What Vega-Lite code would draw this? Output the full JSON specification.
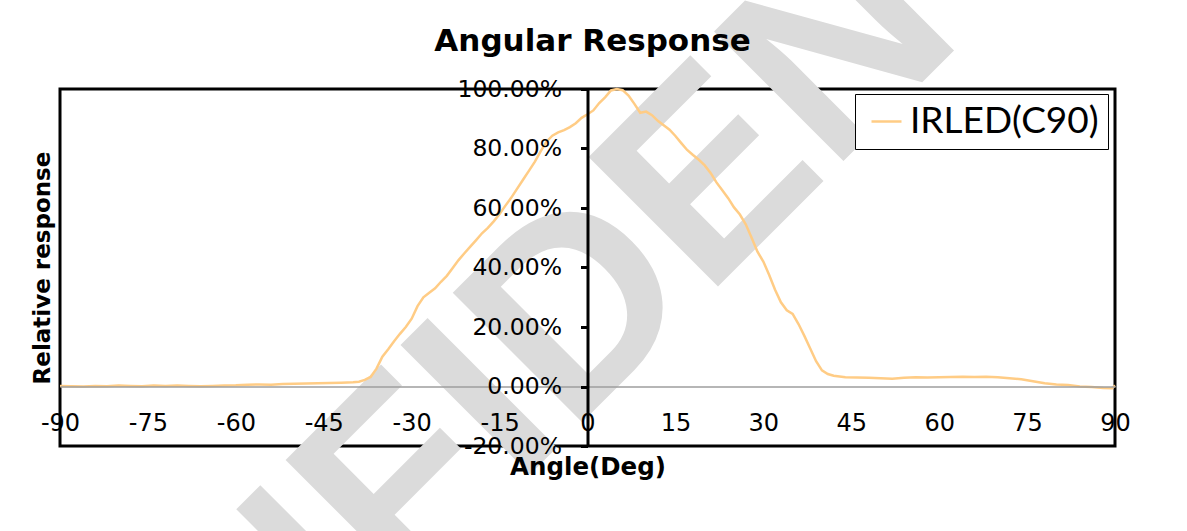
{
  "$schema": "https://vega.github.io/schema/vega-lite/v6.json",
  "width": 1055,
  "height": 357,
  "autosize": {"type": "none"},
  "padding": {"left": 60, "top": 89, "right": 72, "bottom": 85},
  "background": "white",
  "view": {"stroke": "black", "strokeWidth": 3},
  "title": {
    "text": "Angular Response",
    "font": "DejaVu Sans",
    "fontSize": 31,
    "fontWeight": "bold",
    "color": "black",
    "anchor": "middle",
    "frame": "group",
    "offset": 0,
    "dx": 5,
    "dy": 589
  },
  "layer": [
    {
      "data": {"values": [{}]},
      "mark": {
        "type": "text",
        "text": "CONFIDENTIAL",
        "angle": -45,
        "font": "Liberation Sans",
        "fontWeight": "bold",
        "fontSize": 266,
        "color": "#dbdbdb",
        "align": "center",
        "baseline": "middle"
      },
      "encoding": {
        "x": {"datum": 6.9, "type": "quantitative"},
        "y": {"datum": 0.414, "type": "quantitative"}
      }
    },
    {
      "data": {
        "values": [
          {"angle": -90, "response": 0.002}, {"angle": -88, "response": 0.001}, {"angle": -86, "response": 0.0},
          {"angle": -84, "response": 0.002}, {"angle": -82, "response": 0.001}, {"angle": -80, "response": 0.003},
          {"angle": -78, "response": 0.002}, {"angle": -76, "response": 0.001}, {"angle": -74, "response": 0.003},
          {"angle": -72, "response": 0.002}, {"angle": -70, "response": 0.003}, {"angle": -68, "response": 0.002},
          {"angle": -66, "response": 0.001}, {"angle": -64, "response": 0.002}, {"angle": -62, "response": 0.003},
          {"angle": -60, "response": 0.004}, {"angle": -58, "response": 0.006}, {"angle": -56, "response": 0.007},
          {"angle": -54, "response": 0.006}, {"angle": -52, "response": 0.008}, {"angle": -50, "response": 0.009},
          {"angle": -48, "response": 0.010}, {"angle": -46, "response": 0.011}, {"angle": -44, "response": 0.012},
          {"angle": -42, "response": 0.013}, {"angle": -40, "response": 0.014}, {"angle": -39, "response": 0.016},
          {"angle": -38, "response": 0.022}, {"angle": -37, "response": 0.032}, {"angle": -36, "response": 0.060},
          {"angle": -35, "response": 0.100}, {"angle": -34, "response": 0.125}, {"angle": -33, "response": 0.152},
          {"angle": -32, "response": 0.177}, {"angle": -31, "response": 0.200}, {"angle": -30, "response": 0.228},
          {"angle": -29, "response": 0.270}, {"angle": -28, "response": 0.300}, {"angle": -27, "response": 0.315},
          {"angle": -26, "response": 0.330}, {"angle": -25, "response": 0.352}, {"angle": -24, "response": 0.372},
          {"angle": -23, "response": 0.398}, {"angle": -22, "response": 0.425}, {"angle": -21, "response": 0.448},
          {"angle": -20, "response": 0.470}, {"angle": -19, "response": 0.492}, {"angle": -18, "response": 0.515},
          {"angle": -17, "response": 0.533}, {"angle": -16, "response": 0.555}, {"angle": -15, "response": 0.580},
          {"angle": -14, "response": 0.608}, {"angle": -13, "response": 0.635}, {"angle": -12, "response": 0.665},
          {"angle": -11, "response": 0.695}, {"angle": -10, "response": 0.725}, {"angle": -9, "response": 0.755},
          {"angle": -8, "response": 0.790}, {"angle": -7, "response": 0.823}, {"angle": -6, "response": 0.843},
          {"angle": -5, "response": 0.854}, {"angle": -4, "response": 0.862}, {"angle": -3, "response": 0.872},
          {"angle": -2, "response": 0.885}, {"angle": -1, "response": 0.903}, {"angle": 0, "response": 0.915},
          {"angle": 1, "response": 0.928}, {"angle": 2, "response": 0.953}, {"angle": 3, "response": 0.972},
          {"angle": 4, "response": 0.995}, {"angle": 5, "response": 1.0}, {"angle": 6, "response": 0.996},
          {"angle": 7, "response": 0.978}, {"angle": 8, "response": 0.950}, {"angle": 9, "response": 0.920},
          {"angle": 10, "response": 0.924}, {"angle": 11, "response": 0.912}, {"angle": 12, "response": 0.893},
          {"angle": 13, "response": 0.878}, {"angle": 14, "response": 0.863}, {"angle": 15, "response": 0.842},
          {"angle": 16, "response": 0.818}, {"angle": 17, "response": 0.795}, {"angle": 18, "response": 0.778},
          {"angle": 19, "response": 0.762}, {"angle": 20, "response": 0.743}, {"angle": 21, "response": 0.718},
          {"angle": 22, "response": 0.686}, {"angle": 23, "response": 0.660}, {"angle": 24, "response": 0.633},
          {"angle": 25, "response": 0.602}, {"angle": 26, "response": 0.578}, {"angle": 27, "response": 0.545},
          {"angle": 28, "response": 0.500}, {"angle": 29, "response": 0.453}, {"angle": 30, "response": 0.420},
          {"angle": 31, "response": 0.375}, {"angle": 32, "response": 0.325}, {"angle": 33, "response": 0.283},
          {"angle": 34, "response": 0.256}, {"angle": 35, "response": 0.244}, {"angle": 36, "response": 0.210},
          {"angle": 37, "response": 0.170}, {"angle": 38, "response": 0.128}, {"angle": 39, "response": 0.085},
          {"angle": 40, "response": 0.054}, {"angle": 41, "response": 0.042}, {"angle": 42, "response": 0.036},
          {"angle": 44, "response": 0.031}, {"angle": 46, "response": 0.030}, {"angle": 48, "response": 0.029},
          {"angle": 50, "response": 0.028}, {"angle": 52, "response": 0.026}, {"angle": 54, "response": 0.029},
          {"angle": 56, "response": 0.031}, {"angle": 58, "response": 0.030}, {"angle": 60, "response": 0.031},
          {"angle": 62, "response": 0.032}, {"angle": 64, "response": 0.033}, {"angle": 66, "response": 0.032},
          {"angle": 68, "response": 0.033}, {"angle": 70, "response": 0.031}, {"angle": 72, "response": 0.028},
          {"angle": 74, "response": 0.024}, {"angle": 76, "response": 0.018}, {"angle": 78, "response": 0.011},
          {"angle": 80, "response": 0.007}, {"angle": 82, "response": 0.005}, {"angle": 84, "response": 0.0},
          {"angle": 86, "response": -0.002}, {"angle": 88, "response": -0.005}, {"angle": 89.5, "response": -0.006},
          {"angle": 90, "response": 0.004}
        ]
      },
      "mark": {"type": "line", "strokeWidth": 2.5, "interpolate": "linear"},
      "encoding": {
        "x": {
          "field": "angle",
          "type": "quantitative",
          "scale": {"domain": [-90, 90], "nice": false, "zero": false},
          "axis": {
            "orient": "bottom",
            "offset": -59.5,
            "values": [-90, -75, -60, -45, -30, -15, 0, 15, 30, 45, 60, 75, 90],
            "labelExpr": "(datum.value < 0 ? '-' : '') + abs(datum.value)",
            "domainColor": "#9e9e9e",
            "domainWidth": 1.3,
            "ticks": false,
            "tickSize": 0,
            "labelFont": "DejaVu Sans",
            "labelFontSize": 24,
            "labelColor": "black",
            "labelPadding": 25,
            "labelFlush": false,
            "labelOverlap": false,
            "gridColor": "#9e9e9e",
            "gridWidth": 1.3,
            "title": "Angle(Deg)",
            "titleFont": "DejaVu Sans",
            "titleFontSize": 24.5,
            "titleFontWeight": "bold",
            "titleColor": "black",
            "titleBaseline": "top",
            "titleY": 69,
            "zindex": 1
          }
        },
        "y": {
          "field": "response",
          "type": "quantitative",
          "scale": {"domain": [-0.2, 1.0], "nice": false, "zero": false},
          "axis": {
            "orient": "left",
            "offset": -527.5,
            "values": [-0.2, 0, 0.2, 0.4, 0.6, 0.8, 1.0],
            "labelExpr": "(datum.value < 0 ? '-' : '') + format(abs(datum.value), '.2%')",
            "domainColor": "black",
            "domainWidth": 3,
            "tickColor": "black",
            "tickWidth": 3,
            "tickSize": 7,
            "labelFont": "DejaVu Sans",
            "labelFontSize": 23.5,
            "labelColor": "black",
            "labelPadding": 19,
            "labelFlush": false,
            "labelOverlap": false,
            "gridColor": "#9e9e9e",
            "gridWidth": 1.3,
            "title": "Relative response",
            "titleFont": "DejaVu Sans",
            "titleFontSize": 23,
            "titleFontWeight": "bold",
            "titleColor": "black",
            "titleAngle": -90,
            "titleAlign": "center",
            "titleBaseline": "middle",
            "titleX": -545.5,
            "titleY": 178.5,
            "zindex": 1
          }
        },
        "color": {
          "datum": "IRLED(C90)",
          "type": "nominal",
          "scale": {"range": ["#FFCC85"]},
          "legend": {
            "title": null,
            "orient": "none",
            "legendX": 795,
            "legendY": 5,
            "strokeColor": "black",
            "fillColor": "white",
            "padding": 9,
            "symbolType": "stroke",
            "symbolSize": 900,
            "symbolStrokeWidth": 2.5,
            "symbolOffset": 4,
            "labelFont": "Lato",
            "labelFontSize": 37,
            "labelColor": "black",
            "labelOffset": 5,
            "labelLimit": 400
          }
        }
      }
    }
  ]
}
